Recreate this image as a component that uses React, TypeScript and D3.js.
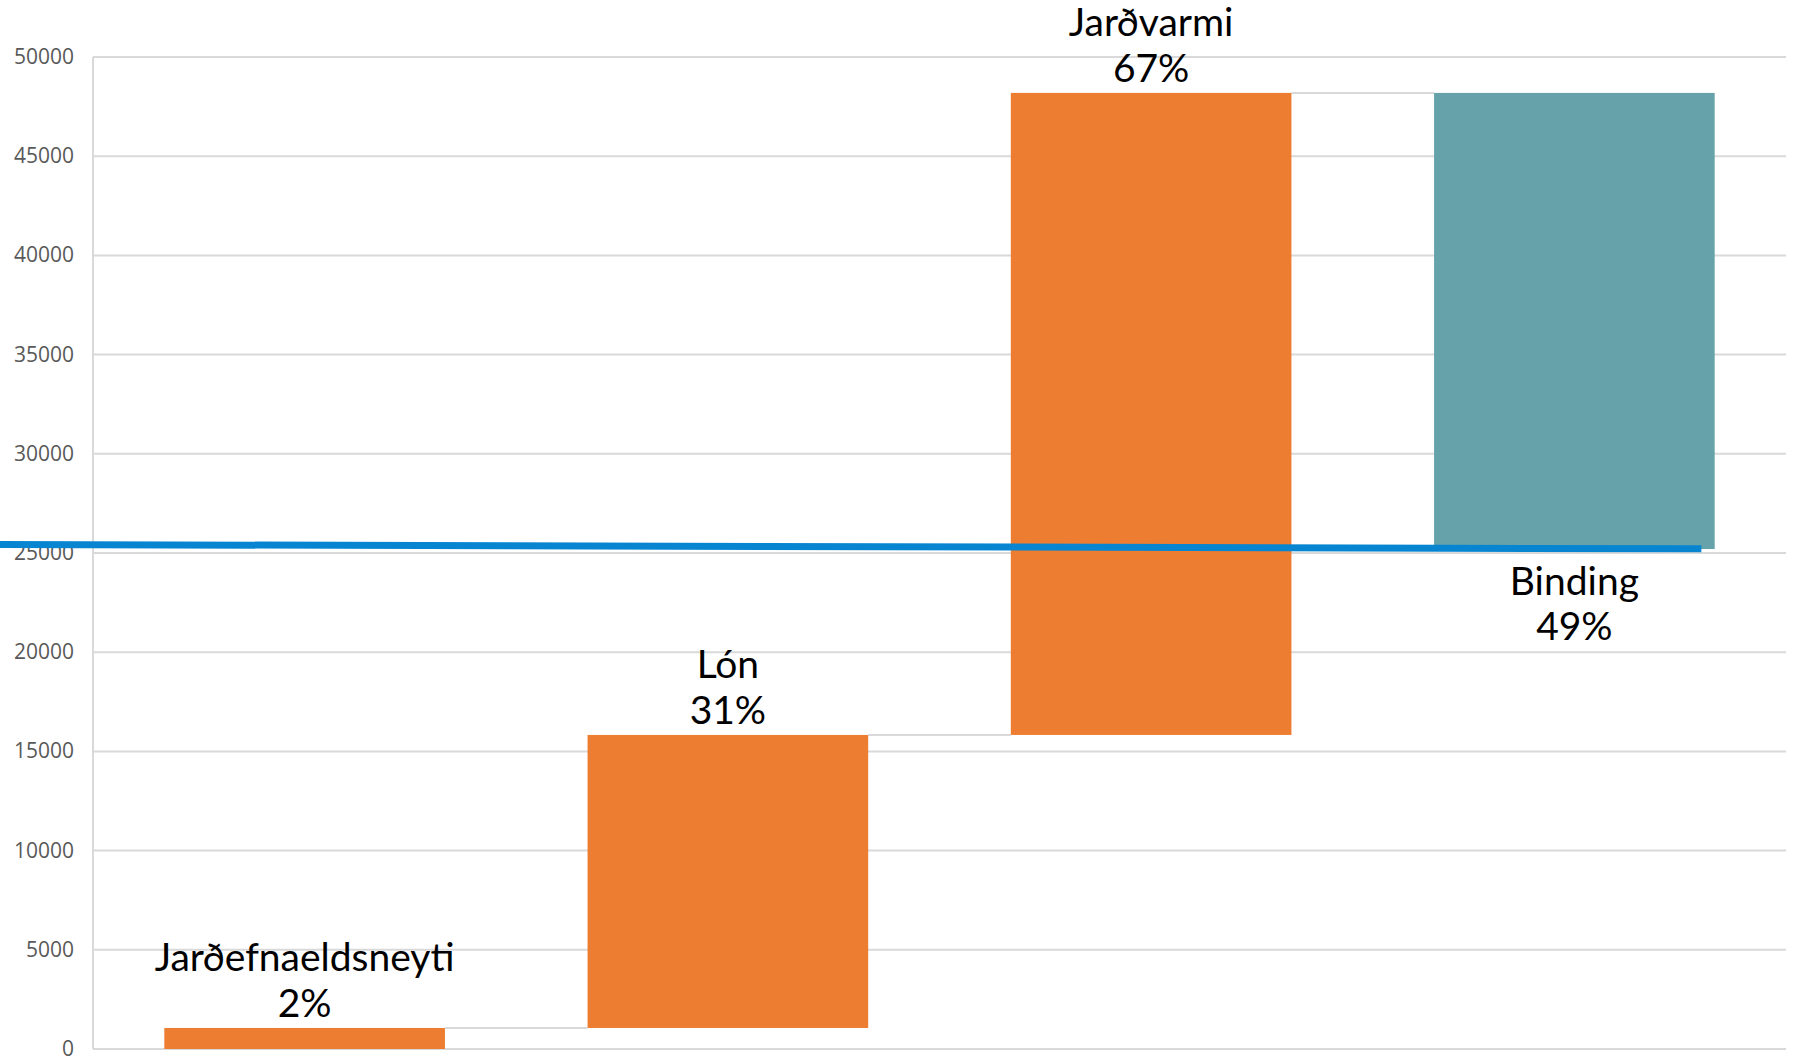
import React from "react";
import * as d3 from "d3";

// waterfall steps (start / end in the y units)
const categories = ["Jarðefnaeldsneyti", "Lón", "Jarðvarmi", "Binding"];
const startValues = [0, 1060, 15830, 25200];
const endValues = [1060, 15830, 48190, 48190];
const pctLabels = ["2%", "31%", "67%", "49%"];
const barKinds = ["up", "up", "up", "sink"];

const yTicks = [0, 5000, 10000, 15000, 20000, 25000, 30000, 35000, 40000, 45000, 50000];

// the blue line drawn across the chart (category position, value)
const linePositions = [-0.72, 3.3];
const lineValues = [25430, 25210];

const W = 1799;
const H = 1059;
const margin = { top: 57, right: 13, bottom: 10, left: 93 };

const App: React.FC = () => {
  const innerW = W - margin.left - margin.right;
  const x = d3
    .scaleBand<string>()
    .domain(categories)
    .range([margin.left, margin.left + innerW])
    .paddingInner(0.337)
    .paddingOuter(0.1685);

  const y = d3
    .scaleLinear()
    .domain([0, 50000])
    .range([H - margin.bottom, margin.top]);

  // category index -> pixel centre of band
  const xPos = d3
    .scaleLinear()
    .domain([0, categories.length - 1])
    .range([
      x(categories[0])! + x.bandwidth() / 2,
      x(categories[categories.length - 1])! + x.bandwidth() / 2,
    ]);

  const linePts = linePositions.map((p, i) => [xPos(p), y(lineValues[i])] as [number, number]);
  const lineGen = d3.line();

  const labelFont = "Lato, 'Open Sans', sans-serif";

  return (
    <svg
      width={W}
      height={H}
      style={{ position: "absolute", left: 0, top: 0, background: "#fff" }}
    >
      {/* gridlines */}
      {yTicks.map((t) => (
        <line
          key={"g" + t}
          x1={margin.left}
          x2={W - margin.right}
          y1={y(t)}
          y2={y(t)}
          stroke="#d9d9d9"
          strokeWidth={2}
        />
      ))}
      <line
        x1={margin.left}
        x2={margin.left}
        y1={y(50000)}
        y2={y(0)}
        stroke="#d9d9d9"
        strokeWidth={2}
      />
      {yTicks.map((t) => (
        <text
          key={"t" + t}
          x={74}
          y={y(t)}
          dy="0.33em"
          textAnchor="end"
          fontFamily="'Open Sans', sans-serif"
          fontSize={21}
          fill="#595959"
        >
          {t}
        </text>
      ))}

      {/* connectors */}
      {categories.slice(0, -1).map((c, i) => (
        <line
          key={"c" + c}
          x1={x(c)! + x.bandwidth()}
          x2={x(categories[i + 1])!}
          y1={y(endValues[i])}
          y2={y(endValues[i])}
          stroke="#d9d9d9"
          strokeWidth={2}
        />
      ))}

      {/* bars */}
      {categories.map((c, i) => (
        <rect
          key={"b" + c}
          x={x(c)}
          width={x.bandwidth()}
          y={y(endValues[i])}
          height={y(startValues[i]) - y(endValues[i])}
          fill={barKinds[i] === "sink" ? "#65a2a9" : "#ed7d31"}
        />
      ))}

      {/* blue line */}
      <path d={lineGen(linePts)!} fill="none" stroke="#0785d1" strokeWidth={7} />

      {/* labels */}
      {categories.map((c, i) => {
        const cx = x(c)! + x.bandwidth() / 2;
        const below = barKinds[i] === "sink";
        const base = below ? y(startValues[i]) + 46 : y(endValues[i]) - 11;
        return (
          <text
            key={"l" + c}
            x={cx}
            textAnchor="middle"
            fontFamily={labelFont}
            fontSize={39}
            fill="#000"
          >
            <tspan x={cx} y={below ? base : base - 46}>
              {c}
            </tspan>
            <tspan x={cx} y={below ? base + 45 : base}>
              {pctLabels[i]}
            </tspan>
          </text>
        );
      })}
    </svg>
  );
};

export default App;
